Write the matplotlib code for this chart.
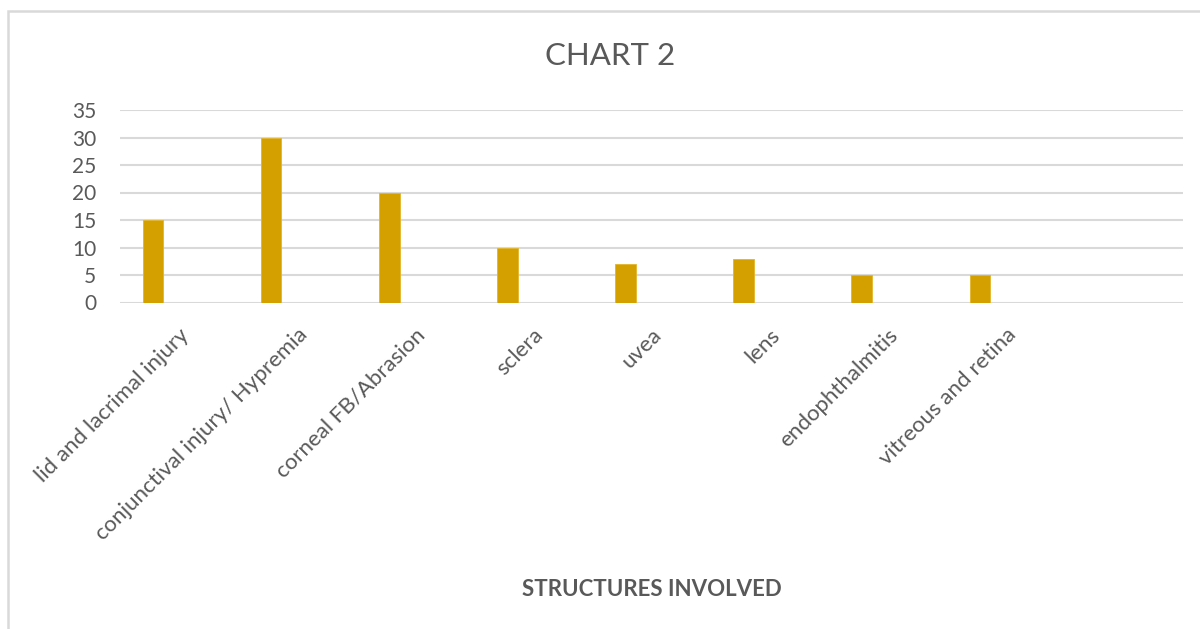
import matplotlib
matplotlib.use("Agg")
import matplotlib.pyplot as plt
from matplotlib.patches import Rectangle

categories = ["lid and lacrimal injury", "conjunctival injury/ Hypremia",
              "corneal FB/Abrasion", "sclera", "uvea", "lens",
              "endophthalmitis", "vitreous and retina", ""]
values = [15, 30, 20, 10, 7, 8, 5, 5]
yticks = [0, 5, 10, 15, 20, 25, 30, 35]

W, H = 1200, 629
plt.rcParams['font.family'] = ['Lato', 'DejaVu Sans']
fig = plt.figure(figsize=(W / 100, H / 100), dpi=100)
gray = '#595959'

ax = fig.add_axes([120 / W, 1 - 302.5 / H, (1183 - 120) / W, (302.5 - 110) / H])
xs = list(range(len(values)))
ax.bar([x - 0.22 for x in xs], values, width=0.174, color='#D4A000',
       edgecolor='#E2B52A', linewidth=0.6, zorder=3)
ax.set_xlim(-0.5, len(categories) - 0.5)
ax.set_ylim(0, 35)
ax.set_yticks(yticks)
ax.set_yticklabels([str(t) for t in yticks])
ax.yaxis.grid(True, color='#d9d9d9', linewidth=1.5, zorder=0)
for s in ax.spines.values():
    s.set_visible(False)
ax.tick_params(axis='y', length=0, pad=17, labelsize=15, labelcolor=gray)
ax.set_xticks(range(len(categories)))
ax.set_xticklabels(categories, rotation=45, ha='right', rotation_mode='anchor',
                   fontsize=16, color=gray)
ax.tick_params(axis='x', length=0, pad=16)

fig.text(610 / W, 1 - 56 / H, "CHART 2", ha='center', va='center',
         fontsize=22.5, color=gray)
fig.text(651.5 / W, 1 - 589 / H, "STRUCTURES INVOLVED", ha='center', va='center',
         fontsize=16, fontweight='bold', color=gray)

fig.patches.append(Rectangle((8 / W, -0.1), 1.2, 1 - 11 / H + 0.1,
                             transform=fig.transFigure, fill=False,
                             edgecolor='#d9d9d9', linewidth=1.8))

fig.savefig("out.png", dpi=100)
